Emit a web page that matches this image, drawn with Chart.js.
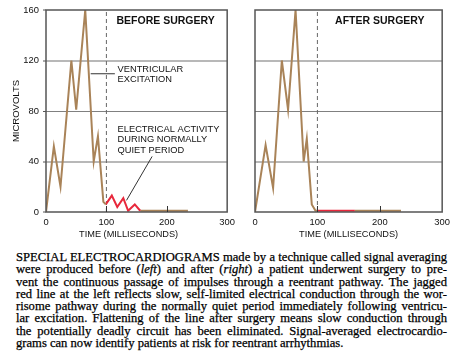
<!DOCTYPE html>
<html>
<head>
<meta charset="utf-8">
<script src="https://cdn.jsdelivr.net/npm/chart.js@4"></script>
<style>
  body { margin: 0; background: #fff; width: 455px; height: 362px; overflow: hidden; position: relative; }
  #before { position: absolute; left: 0; top: 0; }
  #after { position: absolute; left: 240px; top: 0; }
  #caption {
    position: absolute; left: 16px; top: 251px;
    font-family: "Liberation Serif", serif; font-size: 12.6px; line-height: 12.25px;
    color: #000; transform-origin: 0 0; -webkit-text-stroke: 0.25px #000;
  }
  #caption div { white-space: nowrap; text-align: justify; text-align-last: justify; }
  #caption div.last { text-align-last: left; }
</style>
</head>
<body>
<canvas id="before" width="240" height="245"></canvas>
<canvas id="after" width="215" height="245"></canvas>
<div id="caption">
  <div>SPECIAL ELECTROCARDIOGRAMS made by a technique called signal averaging</div>
  <div>were produced before (<i>left</i>) and after (<i>right</i>) a patient underwent surgery to pre-</div>
  <div>vent the continuous passage of impulses through a reentrant pathway. The jagged</div>
  <div>red line at the left reflects slow, self-limited electrical conduction through the wor-</div>
  <div>risome pathway during the normally quiet period immediately following ventricu-</div>
  <div>lar excitation. Flattening of the line after surgery means slow conduction through</div>
  <div>the potentially deadly circuit has been eliminated. Signal-averaged electrocardio-</div>
  <div class="last">grams can now identify patients at risk for reentrant arrhythmias.</div>
</div>
<script>
// time in milliseconds, signal in microvolts
const beforeMainTime = [0, 13, 24, 42, 50, 65, 79, 86, 95, 99]
const beforeMainVolts = [0, 52, 20, 120, 81, 160, 40, 60, 8, 6]
const beforeLateTime = [99, 109, 118, 128, 136, 147, 156]
const beforeLateVolts = [6, 13, 4, 11, 1, 6, 1]
const beforeTailTime = [156, 235]
const beforeTailVolts = [1, 1]

const afterMainTime = [0, 17, 29, 43, 53, 65, 78, 83, 91, 97, 100]
const afterMainVolts = [0, 53, 19, 120, 81, 160, 40, 58, 6, 1, 1]
const afterLateTime = [100, 160]
const afterLateVolts = [1, 1]
const afterTailTime = [160, 234]
const afterTailVolts = [1, 1]

const quietStart = 100   // dashed line
const timeTicks = [0, 100, 200, 300]
const voltTicks = [0, 40, 80, 120, 160]

const brown = '#a98358'
const red = '#e8283c'
const frameColor = '#555'

function pts(xs, ys) {
    return xs.map((x, i) => ({x: x, y: ys[i]}))
}

//draws the box, the inner ticks, the notes and the x title
const notesPlugin = {
    id: 'notes',
    afterDatasetsDraw(chart, args, opts) {
        const {ctx, chartArea} = chart
        const xs = chart.scales.x
        const ys = chart.scales.y
        ctx.save()
        ctx.strokeStyle = frameColor
        ctx.lineWidth = 1.5
        ctx.strokeRect(chartArea.left, chartArea.top, chartArea.right - chartArea.left, chartArea.bottom - chartArea.top)

        ctx.lineWidth = 1
        ctx.strokeStyle = '#333'
        for (const t of timeTicks.slice(1, -1)) {
            let px = Math.round(xs.getPixelForValue(t)) + 0.5
            ctx.beginPath()
            ctx.moveTo(px, chartArea.bottom)
            ctx.lineTo(px, chartArea.bottom - 6)
            ctx.stroke()
        }

        for (const l of opts.leaders || []) {
            ctx.beginPath()
            ctx.moveTo(xs.getPixelForValue(l[0]), ys.getPixelForValue(l[1]))
            ctx.lineTo(xs.getPixelForValue(l[2]), ys.getPixelForValue(l[3]))
            ctx.stroke()
        }

        ctx.fillStyle = '#111'
        ctx.textBaseline = 'middle'
        for (const n of opts.labels || []) {
            ctx.font = (n.bold ? 'bold 10.5px' : '9.3px') + ' "Liberation Sans", Arial, sans-serif'
            ctx.textAlign = n.align || 'left'
            ctx.fillText(n.text, xs.getPixelForValue(n.x), ys.getPixelForValue(n.y))
        }

        ctx.font = '9.2px "Liberation Sans", Arial, sans-serif'
        ctx.textAlign = 'center'
        ctx.fillText('TIME (MILLISECONDS)', (xs.left + xs.right) / 2 + (opts.titleShift || 0), xs.bottom - 11)
        ctx.restore()
    }
}

function makeChart(id, sets, showY, padRight, yWidth, notes) {
    let datasets = sets.map(s => ({
        data: s[0],
        borderColor: s[1],
        borderWidth: 2,
        pointRadius: 0,
        tension: 0,
        fill: false
    }))
    datasets.push({
        data: [{x: quietStart, y: 0}, {x: quietStart, y: 160}],
        borderColor: '#666',
        borderWidth: 1,
        borderDash: [4, 3],
        pointRadius: 0
    })
    let tickFont = {family: '"Liberation Sans", Arial, sans-serif', size: 9.4}

    return new Chart(document.getElementById(id), {
        type: 'line',
        data: {datasets: datasets},
        plugins: [notesPlugin],
        options: {
            responsive: false,
            animation: false,
            layout: {padding: {top: 10, right: padRight, left: 0, bottom: 0}},
            plugins: {legend: {display: false}, tooltip: {enabled: false}, notes: notes},
            scales: {
                x: {
                    type: 'linear', min: 0, max: 300,
                    afterBuildTicks: s => { s.ticks = timeTicks.map(v => ({value: v})) },
                    grid: {display: true, color: 'rgba(0,0,0,0)', drawTicks: false},
                    border: {display: false},
                    ticks: {font: tickFont, color: '#111', padding: 5, maxRotation: 0},
                    afterFit: s => { s.height = 33 }
                },
                y: {
                    min: 0, max: 160,
                    afterBuildTicks: s => { s.ticks = voltTicks.map(v => ({value: v})) },
                    grid: {
                        color: c => (c.tick.value == 0 || c.tick.value == 160) ? 'rgba(0,0,0,0)' : (c.tick.value == 80 ? '#808080' : '#b8b8b8'),
                        lineWidth: c => c.tick.value == 80 ? 1 : 2,
                        drawTicks: showY, tickLength: 3, tickColor: frameColor, tickWidth: 1
                    },
                    border: {display: false},
                    ticks: {display: showY, font: tickFont, color: '#111', padding: 4},
                    title: {
                        display: showY, text: 'MICROVOLTS', color: '#111',
                        font: {family: '"Liberation Sans", Arial, sans-serif', size: 9.5},
                        padding: {top: 11, bottom: 0}
                    },
                    afterFit: s => { s.width = yWidth }
                }
            }
        }
    })
}

makeChart('before', [
    [pts(beforeMainTime, beforeMainVolts), brown],
    [pts(beforeLateTime, beforeLateVolts), red],
    [pts(beforeTailTime, beforeTailVolts), brown]
], true, 5, 46, {
    titleShift: -8,
    labels: [
        {text: 'BEFORE SURGERY', x: 198, y: 151.5, bold: true, align: 'center'},
        {text: 'VENTRICULAR', x: 118.5, y: 113.3},
        {text: 'EXCITATION', x: 118.5, y: 104.9},
        {text: 'ELECTRICAL ACTIVITY', x: 118.5, y: 65.7},
        {text: 'DURING NORMALLY', x: 118.5, y: 57.2},
        {text: 'QUIET PERIOD', x: 118.5, y: 48.5}
    ],
    leaders: [[74, 109.5, 114, 109.5], [175.7, 44, 133.3, 9.2]]
})

makeChart('after', [
    [pts(afterMainTime, afterMainVolts), brown],
    [pts(afterLateTime, afterLateVolts), red],
    [pts(afterTailTime, afterTailVolts), brown]
], false, 11, 15, {
    labels: [
        {text: 'AFTER SURGERY', x: 200, y: 151.5, bold: true, align: 'center'}
    ]
})

//squeeze the caption so the longest line fits the column, then justify
let caption = document.getElementById('caption')
let lines = Array.from(caption.children)
let widest = 0
lines.forEach(l => {
    let span = document.createElement('span')
    span.innerHTML = l.innerHTML
    l.innerHTML = ''
    l.append(span)
    widest = Math.max(widest, span.getBoundingClientRect().width)
})
let target = 431
let scale = Math.min(1, target / widest)
caption.style.width = (target / scale) + 'px'
caption.style.transform = 'scaleX(' + scale + ')'
</script>
</body>
</html>
